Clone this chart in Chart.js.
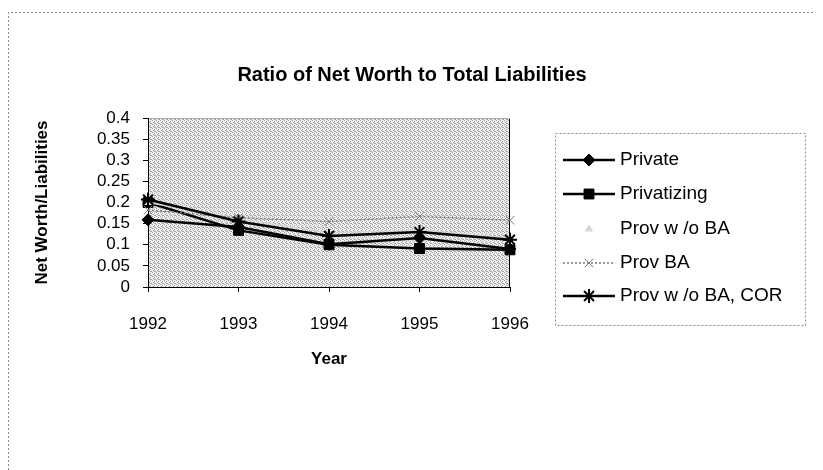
<!DOCTYPE html>
<html>
<head>
<meta charset="utf-8">
<script src="https://cdn.jsdelivr.net/npm/chart.js@4.4.1/dist/chart.umd.min.js"></script>
<style>
  html, body { margin: 0; padding: 0; background: #fff; }
</style>
</head>
<body>
<canvas id="chart" width="823" height="470"></canvas>
<script>
// data
const years = ['1992', '1993', '1994', '1995', '1996'];
const privateVals = [0.159, 0.142, 0.101, 0.116, 0.090];
const privatizingVals = [0.200, 0.134, 0.100, 0.091, 0.088];
const provNoBaVals = [0.200, 0.162, 0.128, 0.135, 0.116];
const provBaVals = [0.182, 0.164, 0.155, 0.167, 0.158];
const provNoBaCorVals = [0.207, 0.155, 0.121, 0.130, 0.112];

const Y_MAX = 0.4;
const Y_STEP = 0.05;

const TITLE = 'Ratio of Net Worth to Total Liabilities';
const FONT = '"Liberation Sans", Arial, sans-serif';

// dithered grey fill like the old Excel plot area
function plotPattern(ctx) {
  const pc = document.createElement('canvas');
  pc.width = pc.height = 4;
  const p = pc.getContext('2d');
  p.fillStyle = '#efefef';
  p.fillRect(0, 0, 4, 4);
  p.fillStyle = '#a2a2a2';
  [[0, 0], [2, 1], [1, 2], [3, 3], [2, 3]].forEach(([x, y]) => p.fillRect(x, y, 1, 1));
  return ctx.createPattern(pc, 'repeat');
}

function series(label, data, color, width, style, radius, extra = {}) {
  return {
    label,
    data,
    borderColor: color,
    backgroundColor: color,
    borderWidth: width,
    pointStyle: style,
    pointRadius: radius,
    pointBorderColor: color,
    pointBackgroundColor: color,
    pointBorderWidth: style === 'star' ? 2 : 1,
    tension: 0,
    fill: false,
    ...extra,
  };
}

const datasets = [
  series('Private', privateVals, '#000', 2.5, 'rectRot', 6, { order: 4 }),
  series('Privatizing', privatizingVals, '#000', 2.5, 'rect', 7, { order: 3 }),
  series('Prov w /o BA', provNoBaVals, '#d6d6d6', 1.5, 'triangle', 4, { order: 2 }),
  series('Prov BA', provBaVals, '#7a7a7a', 1.5, 'crossRot', 6, { order: 1, borderDash: [2, 2] }),
  series('Prov w /o BA, COR', provNoBaCorVals, '#000', 2.5, 'star', 7, { order: 0 }),
];

// frame, title, plot fill and the boxed legend on the right
const decor = {
  id: 'decor',
  beforeDraw(chart) {
    const { ctx, chartArea: a } = chart;
    ctx.save();
    ctx.fillStyle = '#fff';
    ctx.fillRect(0, 0, chart.width, chart.height);
    ctx.strokeStyle = '#8a8a8a';
    ctx.lineWidth = 1;
    ctx.setLineDash([2, 2]);
    ctx.beginPath();
    ctx.moveTo(8.5, 470);
    ctx.lineTo(8.5, 12.5);
    ctx.lineTo(815, 12.5);
    ctx.stroke();
    ctx.setLineDash([]);
    ctx.fillStyle = plotPattern(ctx);
    ctx.fillRect(a.left, a.top, a.width, a.height);
    ctx.strokeStyle = '#000';
    ctx.beginPath();
    ctx.moveTo(a.right - 0.5, a.top);
    ctx.lineTo(a.right - 0.5, a.bottom);
    ctx.stroke();
    ctx.strokeStyle = '#b0b0b0';
    ctx.beginPath();
    ctx.moveTo(a.left, a.top + 0.5);
    ctx.lineTo(a.right, a.top + 0.5);
    ctx.stroke();
    ctx.fillStyle = '#000';
    ctx.font = 'bold 20px ' + FONT;
    ctx.textAlign = 'center';
    ctx.textBaseline = 'middle';
    ctx.fillText(TITLE, 412, 75);
    ctx.restore();
  },
  afterDraw(chart) {
    const ctx = chart.ctx;
    const box = { x: 555, y: 133, w: 250, h: 192 };
    ctx.save();
    ctx.strokeStyle = '#8a8a8a';
    ctx.lineWidth = 1;
    ctx.setLineDash([2, 2]);
    ctx.strokeRect(box.x + 0.5, box.y + 0.5, box.w, box.h);
    ctx.setLineDash([]);
    const rows = [160, 194, 229, 263, 296];
    chart.data.datasets.forEach((ds, i) => {
      const y = rows[i];
      if (ds.pointStyle !== 'triangle') {
        ctx.strokeStyle = ds.borderColor;
        ctx.lineWidth = ds.borderWidth;
        ctx.setLineDash(ds.borderDash || []);
        ctx.beginPath();
        ctx.moveTo(563, y);
        ctx.lineTo(615, y);
        ctx.stroke();
        ctx.setLineDash([]);
      }
      ctx.fillStyle = ds.pointBackgroundColor;
      ctx.strokeStyle = ds.pointBorderColor;
      ctx.lineWidth = ds.pointBorderWidth;
      Chart.helpers.drawPoint(ctx, {
        pointStyle: ds.pointStyle,
        radius: ds.pointRadius,
        rotation: 0,
        borderWidth: ds.pointBorderWidth,
      }, 589, y);
      ctx.fillStyle = '#000';
      ctx.font = '19px ' + FONT;
      ctx.textBaseline = 'middle';
      ctx.textAlign = 'left';
      ctx.fillText(ds.label, 620, y);
    });
    ctx.restore();
  },
};

new Chart(document.getElementById('chart'), {
  type: 'line',
  data: { labels: years, datasets },
  options: {
    responsive: false,
    animation: false,
    layout: { padding: { left: 32, right: 313, top: 118, bottom: 100 } },
    plugins: {
      legend: { display: false },
      tooltip: { enabled: false },
      title: { display: false },
    },
    scales: {
      x: {
        offset: false,
        grid: { drawOnChartArea: false, drawTicks: true, tickLength: 5, color: '#000', offset: false },
        border: { display: true, color: '#000', width: 1 },
        ticks: { color: '#000', font: { family: FONT, size: 17 }, padding: 22, maxRotation: 0, autoSkip: false },
        title: {
          display: true,
          text: 'Year',
          color: '#000',
          font: { family: FONT, size: 17, weight: 'bold' },
          padding: { top: 10, bottom: 0 },
        },
        afterFit(s) { s.height = 83; },
      },
      y: {
        min: 0,
        max: Y_MAX,
        grid: { drawOnChartArea: false, drawTicks: true, tickLength: 5, color: '#000' },
        border: { display: true, color: '#000', width: 1 },
        ticks: {
          stepSize: Y_STEP,
          autoSkip: false,
          color: '#000',
          font: { family: FONT, size: 17 },
          padding: 13,
          callback: v => String(+v.toFixed(2)),
        },
        title: {
          display: true,
          text: 'Net Worth/Liabilities',
          color: '#000',
          font: { family: FONT, size: 17, weight: 'bold' },
          padding: 0,
        },
        afterFit(s) { s.width = 116; },
      },
    },
  },
  plugins: [decor],
});
</script>
</body>
</html>
